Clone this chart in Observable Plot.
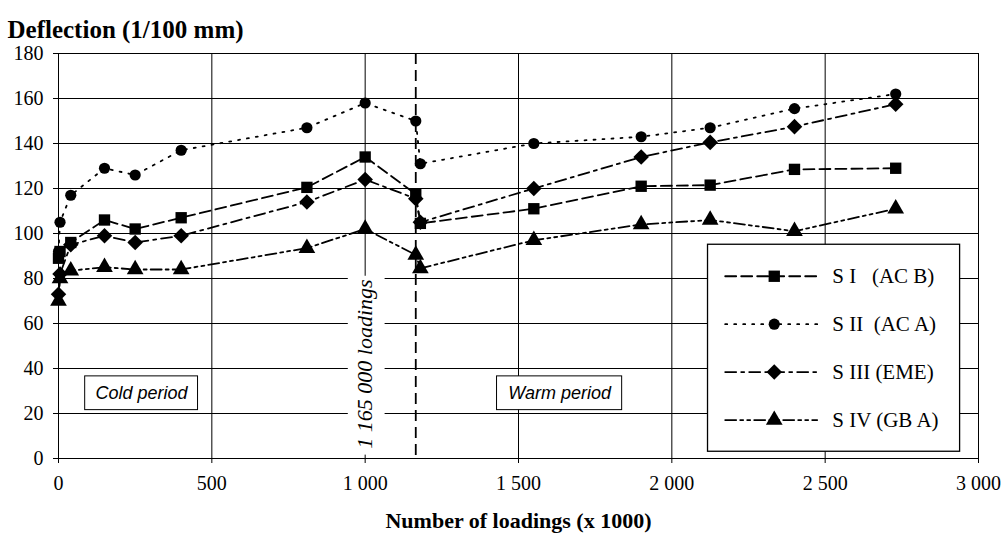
<!DOCTYPE html>
<html><head><meta charset="utf-8">
<script src="https://cdn.jsdelivr.net/npm/d3@7"></script>
<script src="https://cdn.jsdelivr.net/npm/@observablehq/plot@0.6"></script>
<style>
body{margin:0;background:#fff;}
#chart svg{display:block;}
</style></head><body><div id="chart"></div>
<script>
// ---- data ----
const loadings = [0, 5, 40, 150, 250, 400, 810, 1000, 1165, 1180, 1550, 1900, 2125, 2400, 2730];
const sI   = [89, 92, 96, 106, 102, 107, 120.5, 134, 117.5, 104.5, 111, 121, 121.5, 128.5, 129];
const sII  = [92, 105, 117, 129, 126, 137, 147, 158, 150, 131, 140, 143, 147, 155.5, 162];
const sIII = [73, 82, 95, 99, 96, 99, 114, 124, 115.5, 105, 120, 134, 140.5, 147.5, 157.5];
const sIV  = [70, 80, 83.5, 85, 84, 84, 93.5, 102, 90.5, 84.5, 97, 104, 106, 101, 111];
const seriesNames = ["S I\u00A0\u00A0\u00A0(AC B)", "S II\u00A0\u00A0(AC A)", "S III (EME)", "S IV (GB A)"];
const seriesValues = [sI, sII, sIII, sIV];
const xTicks = [0, 500, 1000, 1500, 2000, 2500, 3000];
const yTicks = [0, 20, 40, 60, 80, 100, 120, 140, 160, 180];
const transitionAt = 1165;
const transitionLabel = "1 165 000 loadings";
const periodLabels = ["Cold period", "Warm period"];
const yTitle = "Deflection (1/100 mm)";
const xTitle = "Number of loadings (x 1000)";

// ---- styles ----
const symbols = ["square", "circle", "diamond2", "triangle"];
const dashes = ["11,5", "2,7", "11,5,3,5", "11,4,3,4,3,4"];
const sizes = [6.4, 5.6, 7, 6.2];
const lw = 1.8;

const fmt = d3.formatLocale({thousands: " ", grouping: [3], decimal: "."}).format(",");

const marks = [
  Plot.gridY(yTicks, {stroke: "#000", strokeOpacity: 1, strokeWidth: 1}),
  Plot.gridX(xTicks, {stroke: "#000", strokeOpacity: 1, strokeWidth: 1}),
  // white background behind rotated label
  Plot.rect([0], {x1: 945, x2: 1065, y1: 1.5, y2: 81, fill: "white"}),
  Plot.text([transitionLabel], {x: 1000, y: 42, rotate: -90, fontStyle: "italic", fontSize: 22}),
  Plot.ruleX([transitionAt], {stroke: "#000", strokeWidth: 1.8, strokeDasharray: "11,6"})
];

seriesValues.forEach((vals, i) => {
  const data = loadings.map((x, j) => ({x, y: vals[j]}));
  marks.push(Plot.line(data, {x: "x", y: "y", stroke: "#000", strokeWidth: lw, strokeDasharray: dashes[i]}));
  marks.push(Plot.dot(data, {x: "x", y: "y", symbol: () => symbols[i], r: sizes[i], fill: "#000", stroke: "none"}));
});

// period boxes
const periodBoxes = [
  {label: periodLabels[0], x1: 87, x2: 455, y1: 21.5, y2: 36.5},
  {label: periodLabels[1], x1: 1430, x2: 1838, y1: 21.5, y2: 36.5}
];
marks.push(Plot.rect(periodBoxes, {x1: "x1", x2: "x2", y1: "y1", y2: "y2", fill: "white", stroke: "#000", strokeWidth: 1}));
marks.push(Plot.text(periodBoxes, {x: d => (d.x1 + d.x2) / 2, y: d => (d.y1 + d.y2) / 2, text: "label", fontStyle: "italic", fontSize: 18, fontFamily: "Liberation Sans"}));

// legend
marks.push(Plot.rect([0], {x1: 2118, x2: 2940, y1: 3, y2: 95, fill: "white", stroke: "#000", strokeWidth: 1.3}));
seriesNames.forEach((name, i) => {
  const ly = 81 - i * 21.3;
  const seg = [{x: 2174, y: ly}, {x: 2474, y: ly}];
  marks.push(Plot.line(seg, {x: "x", y: "y", stroke: "#000", strokeWidth: lw, strokeDasharray: dashes[i]}));
  marks.push(Plot.dot([{x: 2334, y: ly}], {x: "x", y: "y", symbol: () => symbols[i], r: sizes[i], fill: "#000", stroke: "none"}));
  marks.push(Plot.text([name], {x: 2523, y: ly, textAnchor: "start", fontSize: 21}));
});

// axes
marks.push(Plot.axisX(xTicks, {tickFormat: d => d >= 1000 ? fmt(d) : String(d), tickSize: 5, tickPadding: 12, label: null, fontSize: 20}));
marks.push(Plot.axisY(yTicks, {tickSize: 5, tickPadding: 10, label: null, fontSize: 20}));
// titles
marks.push(Plot.text([yTitle], {frameAnchor: "top-left", dx: -51, dy: -33, textAnchor: "start", fontWeight: "bold", fontSize: 25}));
marks.push(Plot.text([xTitle], {frameAnchor: "bottom", dy: 69, fontWeight: "bold", fontSize: 22}));

const chart = Plot.plot({
  width: 1004,
  height: 540,
  marginLeft: 58,
  marginRight: 26,
  marginTop: 53,
  marginBottom: 82,
  style: {fontFamily: "Liberation Serif", fontSize: "19px", color: "#000", background: "#fff", overflow: "visible"},
  x: {domain: [0, 3000]},
  y: {domain: [0, 180]},
  marks
});
document.getElementById("chart").appendChild(chart);
</script>
</body></html>
